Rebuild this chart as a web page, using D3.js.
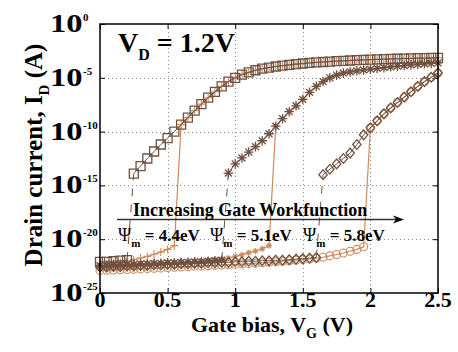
<!DOCTYPE html>
<html><head><meta charset="utf-8">
<script src="https://cdn.jsdelivr.net/npm/d3@7/dist/d3.min.js"></script>
<style>body{margin:0;background:#fff}svg{display:block}</style>
</head><body><svg id="c" width="458" height="352"></svg>
<script>
// ---------- axis data ----------
const xTicks = [0, 0.5, 1, 1.5, 2, 2.5];
const xTickLabels = ["0", "0.5", "1", "1.5", "2", "2.5"];
const yTickExps = [0, -5, -10, -15, -20, -25];
const yTickLabels = ["0", "-5", "-10", "-15", "-20", "-25"];

// ---------- series data: gate voltage (V) and log10 of drain current (A) ----------
// Psi_m = 4.4 eV
const v44DarkLow = [0, 0.05, 0.1, 0.15, 0.2];
const e44DarkLow = [-22.1, -22.1, -22.05, -22.0, -21.95];
const v44DarkHigh = [0.25,0.3,0.35,0.4,0.45,0.5,0.55,0.6,0.65,0.7,0.75,0.8,0.85,0.9,0.95,1,1.05,1.1,1.15,1.2,1.25,1.3,1.35,1.4,1.45,1.5,1.55,1.6,1.65,1.7,1.75,1.8,1.85,1.9,1.95,2,2.05,2.1,2.15,2.2,2.25,2.3,2.35,2.4,2.45,2.5];
const e44DarkHigh = [-13.9,-13.2,-12.5,-11.85,-11.2,-10.6,-10.0,-9.35,-8.7,-8.05,-7.45,-6.85,-6.3,-5.8,-5.35,-5.0,-4.7,-4.5,-4.3,-4.15,-4.05,-3.95,-3.87,-3.8,-3.73,-3.67,-3.62,-3.57,-3.53,-3.49,-3.45,-3.42,-3.39,-3.36,-3.33,-3.31,-3.29,-3.27,-3.25,-3.23,-3.21,-3.2,-3.18,-3.17,-3.15,-3.14];
const v44OrangeLow = [0,0.05,0.1,0.15,0.2,0.25,0.3,0.35,0.4,0.45,0.5,0.55];
const e44OrangeLow = [-22.3,-22.25,-22.2,-22.15,-22.05,-21.9,-21.75,-21.6,-21.4,-21.2,-20.95,-20.6];
const on44 = 0.6;

// Psi_m = 5.1 eV
const v51DarkLow = [0,0.05,0.1,0.15,0.2,0.25,0.3,0.35,0.4,0.45,0.5,0.55,0.6,0.65,0.7,0.75,0.8,0.85,0.9];
const e51DarkLow = [-22.45,-22.45,-22.4,-22.4,-22.35,-22.35,-22.3,-22.3,-22.25,-22.25,-22.2,-22.2,-22.15,-22.15,-22.1,-22.1,-22.05,-22.0,-21.95];
const v51DarkHigh = [0.95,1,1.05,1.1,1.15,1.2,1.25,1.3,1.35,1.4,1.45,1.5,1.55,1.6,1.65,1.7,1.75,1.8,1.85,1.9,1.95,2,2.05,2.1,2.15,2.2,2.25,2.3,2.35,2.4,2.45,2.5];
const e51DarkHigh = [-13.85,-13.0,-12.45,-11.9,-11.4,-10.85,-10.2,-9.5,-8.8,-8.15,-7.6,-7.0,-6.35,-5.8,-5.35,-5.0,-4.75,-4.57,-4.45,-4.35,-4.27,-4.2,-4.12,-4.05,-3.98,-3.92,-3.86,-3.8,-3.75,-3.7,-3.66,-3.62];
const v51OrangeLow = [0,0.05,0.1,0.15,0.2,0.25,0.3,0.35,0.4,0.45,0.5,0.55,0.6,0.65,0.7,0.75,0.8,0.85,0.9,0.95,1,1.05,1.1,1.15,1.2,1.25];
const e51OrangeLow = [-22.75,-22.7,-22.65,-22.6,-22.55,-22.5,-22.45,-22.4,-22.35,-22.3,-22.25,-22.2,-22.15,-22.1,-22.05,-22.0,-21.95,-21.9,-21.85,-21.75,-21.6,-21.45,-21.25,-21.1,-20.9,-20.6];
const on51 = 1.3;

// Psi_m = 5.8 eV
const v58DarkLow = [0,0.05,0.1,0.15,0.2,0.25,0.3,0.35,0.4,0.45,0.5,0.55,0.6,0.65,0.7,0.75,0.8,0.85,0.9,0.95,1,1.05,1.1,1.15,1.2,1.25,1.3,1.35,1.4,1.45,1.5,1.55,1.6];
const e58DarkLow = [-22.6,-22.6,-22.55,-22.55,-22.5,-22.5,-22.45,-22.45,-22.4,-22.4,-22.35,-22.35,-22.3,-22.3,-22.25,-22.25,-22.2,-22.2,-22.15,-22.15,-22.1,-22.1,-22.05,-22.05,-22.0,-22.0,-21.95,-21.95,-21.9,-21.85,-21.8,-21.75,-21.7];
const v58DarkHigh = [1.65,1.7,1.75,1.8,1.85,1.9,1.95,2,2.05,2.1,2.15,2.2,2.25,2.3,2.35,2.4,2.45,2.5];
const e58DarkHigh = [-14.0,-13.5,-13.0,-12.5,-12.0,-11.2,-10.3,-9.65,-9.0,-8.35,-7.8,-7.3,-6.8,-6.3,-5.8,-5.35,-4.95,-4.55];
const v58OrangeLow = [0,0.05,0.1,0.15,0.2,0.25,0.3,0.35,0.4,0.45,0.5,0.55,0.6,0.65,0.7,0.75,0.8,0.85,0.9,0.95,1,1.05,1.1,1.15,1.2,1.25,1.3,1.35,1.4,1.45,1.5,1.55,1.6,1.65,1.7,1.75,1.8,1.85,1.9,1.95];
const e58OrangeLow = [-22.9,-22.88,-22.86,-22.84,-22.81,-22.79,-22.76,-22.73,-22.7,-22.67,-22.64,-22.61,-22.58,-22.55,-22.52,-22.49,-22.46,-22.43,-22.4,-22.37,-22.34,-22.31,-22.27,-22.23,-22.19,-22.15,-22.1,-22.05,-22.0,-21.95,-21.9,-21.84,-21.77,-21.68,-21.55,-21.42,-21.28,-21.12,-20.95,-20.7];
const on58 = 2.0;

// ---------- drawing ----------
const L = 100, R = 438, T = 24, B = 293;
const DARK = "#6f5141", ORANGE = "#cc8b5e";
const FONT = "'Liberation Serif','Times New Roman',serif";

const svg = d3.select("#c");
const x = d3.scaleLinear().domain([0, 2.5]).range([L, R]);
const y = d3.scaleLog().domain([1e-25, 1]).range([B, T]);
const pts = (vs, es) => d3.zip(vs, es).map(([v, e]) => ({v, i: Math.pow(10, e)}));

// gridlines
const grid = svg.append("g").attr("stroke", "#888").attr("stroke-width", 1).attr("stroke-dasharray", "1,3");
grid.selectAll("line.gx").data(xTicks.slice(1, -1)).join("line")
  .attr("x1", d => Math.round(x(d)) + 0.5).attr("x2", d => Math.round(x(d)) + 0.5).attr("y1", T).attr("y2", B);
grid.selectAll("line.gy").data(yTickExps.slice(1, -1)).join("line")
  .attr("y1", d => Math.round(y(Math.pow(10, d))) + 0.5).attr("y2", d => Math.round(y(Math.pow(10, d))) + 0.5).attr("x1", L).attr("x2", R);

// inward ticks
const tk = (g) => g.call(s => s.select(".domain").remove()).selectAll("line").attr("stroke", "#000");
svg.append("g").attr("transform", `translate(0,${B})`).call(d3.axisBottom(x).tickValues(xTicks).tickSize(-5).tickFormat("")).call(tk);
svg.append("g").attr("transform", `translate(0,${T})`).call(d3.axisTop(x).tickValues(xTicks).tickSize(-5).tickFormat("")).call(tk);
const yTickVals = yTickExps.map(e => Math.pow(10, e));
svg.append("g").attr("transform", `translate(${L},0)`).call(d3.axisLeft(y).tickValues(yTickVals).tickSize(-5).tickFormat("")).call(tk);
svg.append("g").attr("transform", `translate(${R},0)`).call(d3.axisRight(y).tickValues(yTickVals).tickSize(-5).tickFormat("")).call(tk);

// marker shapes
const shape = {
  square: s => `M${-s},${-s}h${2*s}v${2*s}h${-2*s}Z`,
  diamond: s => `M0,${-s*1.15}L${s},0L0,${s*1.15}L${-s},0Z`,
  circle: s => `M${s},0A${s},${s} 0 1,1 ${-s},0A${s},${s} 0 1,1 ${s},0Z`,
  plus: s => `M${-s},0H${s}M0,${-s}V${s}`,
  star: s => { const d = s*0.72; return `M${-s},0H${s}M0,${-s}V${s}M${-d},${-d}L${d},${d}M${-d},${d}L${d},${-d}`; }
};

const line = d3.line().x(d => x(d.v)).y(d => y(d.i));
const plotG = svg.append("g");

function drawSeries(p, color, sym, size, sw) {
  plotG.append("g").selectAll("path").data(p).join("path")
    .attr("transform", d => `translate(${x(d.v)},${y(d.i)})`)
    .attr("d", shape[sym](size))
    .attr("fill", "none").attr("stroke", color).attr("stroke-width", sw);
}
function drawLine(p, color, sw, dash) {
  plotG.append("path").datum(p).attr("d", line).attr("fill", "none")
    .attr("stroke", color).attr("stroke-width", sw).attr("stroke-dasharray", dash || null);
}

const sets = [
  {dl: pts(v44DarkLow, e44DarkLow), dh: pts(v44DarkHigh, e44DarkHigh), ol: pts(v44OrangeLow, e44OrangeLow), on: on44, ds: "square", dsz: 4.5, os: "plus", osz: 4},
  {dl: pts(v51DarkLow, e51DarkLow), dh: pts(v51DarkHigh, e51DarkHigh), ol: pts(v51OrangeLow, e51OrangeLow), on: on51, ds: "star", dsz: 4.8, os: "star", osz: 3},
  {dl: pts(v58DarkLow, e58DarkLow), dh: pts(v58DarkHigh, e58DarkHigh), ol: pts(v58OrangeLow, e58OrangeLow), on: on58, ds: "diamond", dsz: 4.2, os: "circle", osz: 4}
];

// orange sweeps first (underneath)
sets.forEach(s => {
  const oh = s.dh.filter(d => d.v >= s.on - 1e-9);
  const full = s.ol.concat(oh);
  drawLine(full, ORANGE, 1.2);
  drawSeries(full, ORANGE, s.os, s.osz, 1.1);
});
// dark sweeps
sets.forEach(s => {
  drawLine(s.dl, DARK, 1);
  drawLine([s.dl[s.dl.length - 1], s.dh[0]], DARK, 1, "8,8");
  drawLine(s.dh, DARK, 1);
  drawSeries(s.dl.concat(s.dh), DARK, s.ds, s.dsz, 1.3);
});

// frame
svg.append("rect").attr("x", L).attr("y", T).attr("width", R - L).attr("height", B - T)
  .attr("fill", "none").attr("stroke", "#000").attr("stroke-width", 1.5);

// x tick labels
svg.append("g").selectAll("text").data(xTicks).join("text")
  .attr("x", d => x(d)).attr("y", 307).attr("text-anchor", "middle")
  .attr("font-family", FONT).attr("font-weight", "bold").attr("font-size", 22)
  .text((d, i) => xTickLabels[i]);

// y tick labels (10^n)
const yl = svg.append("g").selectAll("g").data(yTickExps).join("g")
  .attr("transform", d => `translate(50,${y(Math.pow(10, d)) + 8})`);
yl.append("text").attr("transform", "scale(1.3,1)")
  .attr("font-family", FONT).attr("font-weight", "bold").attr("font-size", 25).text("10");
yl.append("text").attr("x", 33).attr("y", -11)
  .attr("font-family", FONT).attr("font-weight", "bold").attr("font-size", 11)
  .text((d, i) => yTickLabels[i]);

// axis titles
const xt = svg.append("text").attr("x", 272).attr("y", 332).attr("text-anchor", "middle")
  .attr("font-family", FONT).attr("font-weight", "bold").attr("font-size", 22);
xt.append("tspan").text("Gate bias, V");
xt.append("tspan").attr("font-size", 14).attr("dy", 6).text("G");
xt.append("tspan").attr("dy", -6).text(" (V)");

const yt = svg.append("text").attr("transform", "translate(42,155) rotate(-90)").attr("text-anchor", "middle")
  .attr("font-family", FONT).attr("font-weight", "bold").attr("font-size", 25);
yt.append("tspan").text("Drain current, I");
yt.append("tspan").attr("font-size", 15).attr("dy", 7).text("D");
yt.append("tspan").attr("dy", -7).text(" (A)");

// V_D annotation
const vd = svg.append("text").attr("x", 118).attr("y", 52)
  .attr("font-family", FONT).attr("font-weight", "bold").attr("font-size", 28);
vd.append("tspan").text("V");
vd.append("tspan").attr("font-size", 16).attr("dy", 8).text("D");
vd.append("tspan").attr("dy", -8).text(" = 1.2V");

// arrow annotation
svg.append("line").attr("x1", 117).attr("x2", 396).attr("y1", 219.5).attr("y2", 219.5)
  .attr("stroke", "#333").attr("stroke-width", 1.6);
svg.append("path").attr("d", "M393,215.5 L404,219.5 L393,223.5 L396,219.5 Z").attr("fill", "#000");
svg.append("text").attr("x", 133).attr("y", 216)
  .attr("font-family", FONT).attr("font-weight", "bold").attr("font-size", 18)
  .text("Increasing Gate Workfunction");

const psiLabels = ["4.4eV", "5.1eV", "5.8eV"];
const psiX = [118, 210, 303];
psiLabels.forEach((lab, i) => {
  const t = svg.append("text").attr("x", psiX[i]).attr("y", 241)
    .attr("font-family", FONT).attr("font-size", 18);
  t.append("tspan").text("Ψ");
  t.append("tspan").attr("font-weight", "bold").attr("font-size", 11).attr("dy", 6).text("m");
  t.append("tspan").attr("font-weight", "bold").attr("font-size", 17).attr("dy", -6).text(" = " + lab);
});
</script></body></html>
